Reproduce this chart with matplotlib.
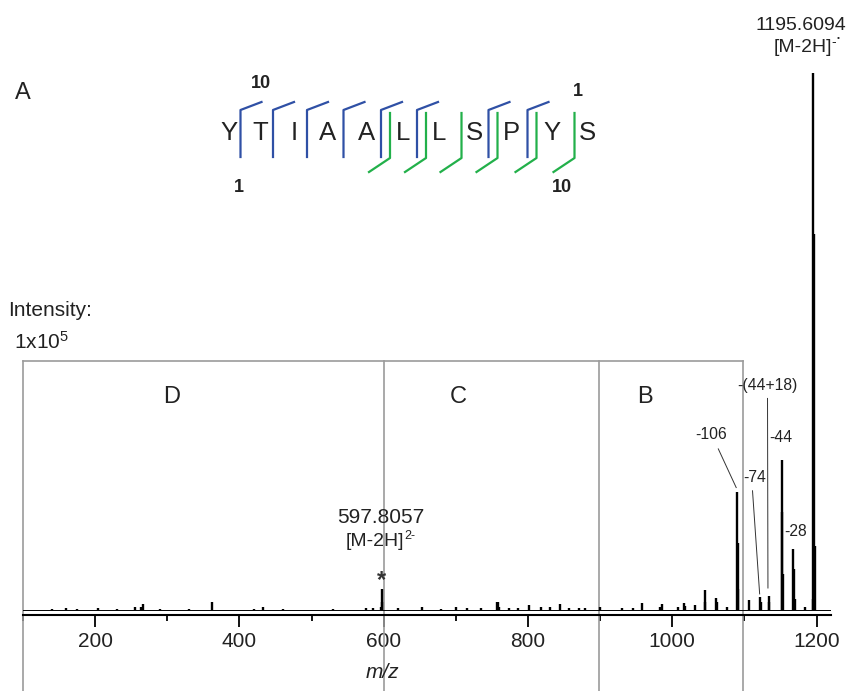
import matplotlib
matplotlib.use('Agg')
import matplotlib.pyplot as plt

plt.rcParams['font.family'] = ['Liberation Sans', 'DejaVu Sans']
plt.rcParams['mathtext.fontset'] = 'custom'
plt.rcParams['mathtext.rm'] = 'Liberation Sans'
plt.rcParams['mathtext.it'] = 'Liberation Sans:italic'
plt.rcParams['mathtext.bf'] = 'Liberation Sans:bold'

# ---------------- data ----------------
peak_mz = [140, 159, 175, 204, 230, 254.6, 264, 266.5, 290, 330, 362, 420, 432.5,
           460, 530, 575, 585, 596.5, 597.3, 598.3, 620, 652.6, 680, 700.8, 716,
           735, 757.2, 758.5, 760, 773, 786, 802, 817.5, 830.6, 844.9, 857, 870.5,
           879, 900, 930, 945, 957.8, 983, 985.5, 1008, 1015.7, 1017, 1032, 1045,
           1046, 1060.8, 1062, 1075.6, 1089.6, 1090.6, 1091.6, 1106.8, 1121.6,
           1122.6, 1133.6, 1134.6, 1151.6, 1152.6, 1153.6, 1167.6, 1168.6, 1169.6,
           1184, 1194.6, 1195.6, 1196.6, 1197.6]
peak_int = [0.2, 0.3, 0.2, 0.3, 0.2, 0.6, 0.5, 1.1, 0.2, 0.2, 1.4, 0.2, 0.5,
            0.2, 0.2, 0.3, 0.4, 0.6, 3.9, 1.5, 0.3, 0.5, 0.2, 0.5, 0.4,
            0.3, 1.4, 1.4, 0.6, 0.4, 0.3, 0.9, 0.6, 0.6, 1.2, 0.4, 0.4,
            0.3, 0.6, 0.3, 0.3, 1.3, 0.6, 1.2, 0.5, 1.3, 0.8, 0.9, 3.8,
            1.5, 2.2, 1.5, 0.5, 21.9, 12.5, 4.0, 1.9, 2.4,
            1.4, 2.6, 1.5, 28.0, 18.2, 6.7, 11.3, 7.6, 2.0,
            0.5, 2.0, 100.0, 70.0, 12.0]

tick_major = [200, 400, 600, 800, 1000, 1200]
tick_minor = [100, 300, 500, 700, 900, 1100]

region_names = ['D', 'C', 'B']
region_edges = [100, 600, 899, 1098]

loss_labels = ['-106', '-74', '-(44+18)', '-44', '-28']
loss_mz = [1089.6, 1121.6, 1133.6, 1151.6, 1167.6]

residues = list('YTIAALLSPYS')
n_sites = [1, 2, 3, 4, 5, 6, 8, 9]      # blue (N-terminal) fragments
c_sites = [5, 6, 7, 8, 9, 10]           # green (C-terminal) fragments

# ---------------- figure ----------------
W, H = 858, 691
TXT = '#222222'
fig = plt.figure(figsize=(W / 100, H / 100), dpi=100)
ax = fig.add_axes([23 / W, (H - 615) / H, (831 - 23) / W, 615 / H])
ax.set_xlim(100, 1220)
ax.set_ylim(-0.93, 113.6)
ybot = -0.93 - (H - 615) / 5.37   # figure bottom in data units

ax.vlines(peak_mz, 0, peak_int, color='black', lw=1.7, zorder=3)
ax.axhline(0, color='black', lw=0.7, zorder=3)

for s in ['top', 'left', 'right']:
    ax.spines[s].set_visible(False)
ax.spines['bottom'].set_linewidth(1.5)
ax.set_yticks([])
ax.set_xticks(tick_major)
ax.set_xticks(tick_minor, minor=True)
ax.tick_params(axis='x', which='major', direction='out', length=8.5, width=1.3,
               labelsize=15, pad=4, colors='black')
ax.tick_params(axis='x', which='minor', direction='out', length=4, width=1.3)
ax.set_xticklabels([str(t) for t in tick_major], color=TXT)

ax.text(0.4455, -(672 - 615) / 615, 'm/z', transform=ax.transAxes, style='italic',
        fontsize=15, ha='center', va='center', color=TXT)

# region boxes
gray = '#9b9b9b'
top = 46.4
ax.plot([region_edges[0], region_edges[-1]], [top, top], color=gray, lw=1.2,
        clip_on=False, zorder=2)
for e in region_edges:
    ax.plot([e, e], [top, ybot], color=gray, lw=1.2, clip_on=False, zorder=2)
for name, xm in zip(region_names, [306, 703, 962]):
    ax.text(xm, 39.7, name, fontsize=17, ha='center', va='center', color=TXT)


def sup_label(x, y, base, sup, fs, sfs, dy=0.82):
    t = ax.text(x, y, base, fontsize=fs, ha='center', va='baseline', color=TXT,
                zorder=4)
    s = ax.annotate(sup, xy=(1.0, dy), xycoords=t, fontsize=sfs, ha='left',
                    va='center', color=TXT, zorder=4)
    return t, s


# parent ion labels
ax.text(1178.8, 108.0, '1195.6094', fontsize=14, ha='center', va='baseline',
        color=TXT)
_, s1 = sup_label(1180.6, 103.9, '[M-2H]', '-', 14, 10, dy=0.85)
ax.annotate('\u2022', xy=(1.0, 0.75), xycoords=s1, fontsize=6, ha='left',
            va='center', color=TXT)
ax.text(596.3, 16.2, '597.8057', fontsize=15, ha='center', va='baseline',
        color=TXT)
sup_label(587.5, 11.9, '[M-2H]', '2-', 14, 9)
ax.text(596.8, 5.4, '*', fontsize=17, fontweight='bold', ha='center',
        va='center', color='#333333')

# neutral loss labels
lab_pos = [(1054.5, 32.7), (1114.6, 24.6), (1132, 41.75), (1150.7, 32.1),
           (1171.5, 14.7)]
for lab, (lx, ly) in zip(loss_labels, lab_pos):
    ax.text(lx, ly, lab, fontsize=11.3, ha='center', va='center', color=TXT)
ax.plot([1063.8, loss_mz[0] - 1.0], [30.0, 22.8], color='#333333', lw=0.7)
ax.plot([1111.2, loss_mz[1] - 0.5], [22.2, 3.0], color='#333333', lw=0.7)
ax.plot([1132.0, loss_mz[2] - 1.0], [39.4, 4.1], color='#333333', lw=0.7)

# ---------------- text labels in figure ----------------
fig.text(8 / W, 1 - 310 / H, 'Intensity:', fontsize=15, ha='left', va='center',
         color=TXT)
fig.text(14 / W, 1 - 342 / H, r'1x10$^{5}$', fontsize=15, ha='left', va='center',
         color=TXT)
fig.text(23 / W, 1 - 93 / H, 'A', fontsize=17, ha='center', va='center',
         color=TXT)

# ---------------- peptide fragment map ----------------
pa = fig.add_axes([0, 0, 1, 1], facecolor='none')
pa.set_xlim(0, W)
pa.set_ylim(H, 0)
pa.axis('off')
letter_x = [229, 260, 294, 328, 367, 403, 439, 474, 511, 552, 587]
for r, lx in zip(residues, letter_x):
    pa.text(lx, 133, r, fontsize=18.5, ha='center', va='center', color=TXT)
blue = '#2f50a5'
green = '#22b04a'
for s in n_sites:
    x = (letter_x[s - 1] + letter_x[s]) / 2 - 4
    pa.plot([x, x, x + 21], [157, 110, 102], color=blue, lw=1.6,
            solid_joinstyle='round')
for s in c_sites:
    x = (letter_x[s - 1] + letter_x[s]) / 2 + 5
    pa.plot([x, x, x - 21], [113, 158, 172], color=green, lw=1.6,
            solid_joinstyle='round')
for txt, (tx, ty) in zip(['10', '1', '1', '10'],
                         [(261, 83), (239, 187), (578, 91), (562, 187)]):
    pa.text(tx, ty, txt, fontsize=13, fontweight='bold', ha='center', va='center',
            color=TXT)

fig.savefig('out.png', dpi=100)
